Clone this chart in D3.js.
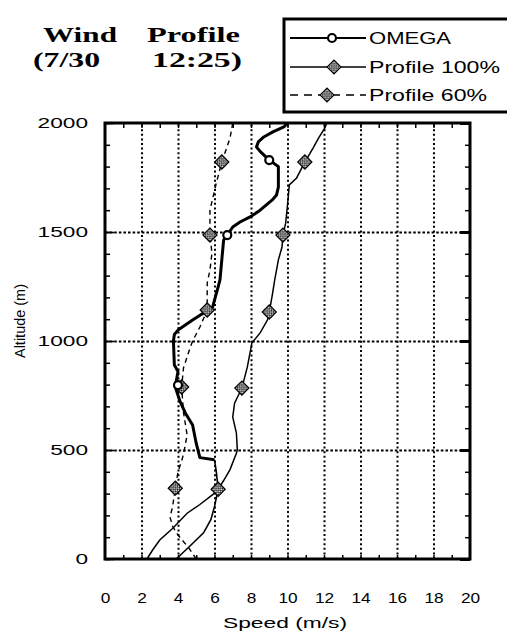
<!DOCTYPE html>
<html>
<head>
<meta charset="utf-8">
<script src="https://cdn.jsdelivr.net/npm/d3@7"></script>
<style>
  html, body { margin: 0; padding: 0; background: #fff; }
  svg { display: block; }
  text { fill: #000; }
</style>
</head>
<body>
<svg id="chart" width="507" height="631"></svg>
<script>
// ---------- data ----------
var xTicks = [0, 2, 4, 6, 8, 10, 12, 14, 16, 18, 20];
var yTicks = [0, 500, 1000, 1500, 2000];
var titleLine1 = ["Wind", "Profile"];
var titleLine2 = ["(7/30", "12:25)"];
var seriesNames = ["OMEGA", "Profile 100%", "Profile 60%"];

var omegaSpeed = [3.9, 4.6, 5.4, 5.8, 6.0, 6.2, 6.1, 6.0, 5.2, 5.0, 4.8, 4.4, 4.1, 3.85, 4.0, 3.8, 3.75, 3.8, 4.0, 4.8, 5.4, 5.9, 6.0, 6.2, 6.3, 6.4, 6.5, 6.7, 7.0, 7.4, 7.95, 8.5, 9.2, 9.4, 9.5, 9.5, 9.0, 8.5, 8.3, 8.4, 8.7, 9.2, 9.8, 10.0];
var omegaAlt   = [0, 55, 120, 180, 240, 320, 400, 455, 465, 530, 615, 670, 725, 790, 860, 890, 1000, 1030, 1050, 1096, 1128, 1156, 1188, 1248, 1280, 1372, 1463, 1486, 1523, 1546, 1569, 1600, 1650, 1670, 1706, 1800, 1830, 1870, 1890, 1913, 1936, 1959, 1982, 2000];
var omegaMarkSpeed = [4.0, 6.7, 9.0];
var omegaMarkAlt   = [798, 1486, 1830];

var p100Speed = [2.3, 2.6, 3.0, 3.7, 4.5, 5.2, 5.9, 6.2, 6.5, 6.85, 7.2, 7.25, 7.2, 7.0, 7.1, 7.5, 7.8, 8.05, 8.5, 8.9, 9.0, 9.15, 9.3, 9.5, 9.7, 9.75, 9.9, 10.0, 10.1, 10.5, 10.95, 11.4, 11.7, 12.05, 12.15];
var p100Alt   = [0, 40, 87, 140, 210, 250, 295, 320, 360, 410, 485, 500, 578, 651, 715, 784, 881, 991, 1037, 1096, 1133, 1202, 1280, 1372, 1431, 1486, 1541, 1624, 1716, 1748, 1821, 1885, 1931, 1977, 2000];
var p100MarkSpeed = [6.2, 7.5, 9.0, 9.75, 10.95];
var p100MarkAlt   = [320, 784, 1133, 1486, 1821];

var p60Speed = [5.0, 4.6, 4.0, 3.7, 3.56, 3.7, 3.85, 4.0, 4.2, 4.3, 4.5, 4.3, 4.2, 4.3, 4.66, 4.8, 5.2, 5.6, 5.6, 5.75, 5.86, 5.75, 5.75, 6.1, 6.4, 6.85, 7.0];
var p60Alt   = [0, 50, 110, 150, 193, 238, 325, 400, 450, 480, 569, 674, 789, 876, 968, 1000, 1064, 1142, 1266, 1325, 1404, 1486, 1600, 1725, 1821, 1931, 2000];
var p60MarkSpeed = [3.85, 4.2, 5.6, 5.75, 6.4];
var p60MarkAlt   = [325, 789, 1142, 1486, 1821];

function zip(xs, ys) { return xs.map(function (v, i) { return [v, ys[i]]; }); }

// ---------- layout ----------
var svg = d3.select("#chart");
var L = 105, R = 470, T = 123, B = 559;
var x = d3.scaleLinear().domain([0, 20]).range([L, R]);
var y = d3.scaleLinear().domain([0, 2000]).range([B, T]);
var sans = "'Liberation Sans', Arial, sans-serif";
var serif = "'Liberation Serif', 'Times New Roman', serif";

// checker pattern for the hatched markers
var defs = svg.append("defs");
var pat = defs.append("pattern").attr("id", "hatch").attr("patternUnits", "userSpaceOnUse").attr("width", 3).attr("height", 3);
pat.append("rect").attr("width", 3).attr("height", 3).attr("fill", "#fff");
pat.append("rect").attr("width", 1.6).attr("height", 1.6).attr("fill", "#000");
pat.append("rect").attr("x", 1.5).attr("y", 1.5).attr("width", 1.5).attr("height", 1.5).attr("fill", "#000");

// ---------- grid (dotted) ----------
svg.append("g").attr("transform", "translate(0," + B + ")")
  .call(d3.axisBottom(x).tickValues(xTicks.slice(1, -1)).tickSize(-(B - T)).tickFormat(""))
  .call(function (g) { g.select(".domain").remove(); g.selectAll("line").attr("stroke", "#000").attr("stroke-width", 2).attr("stroke-dasharray", "2,2.6"); });
svg.append("g").attr("transform", "translate(" + L + ",0)")
  .call(d3.axisLeft(y).tickValues(yTicks.slice(1, -1)).tickSize(-(R - L)).tickFormat(""))
  .call(function (g) { g.select(".domain").remove(); g.selectAll("line").attr("stroke", "#000").attr("stroke-width", 2).attr("stroke-dasharray", "2.6,2"); });

// ---------- inner ticks on all four sides ----------
function tickStyle(g) { g.select(".domain").remove(); g.selectAll("line").attr("stroke", "#000").attr("stroke-width", 1.5); }
var minorAlt = d3.range(0, 2001, 100);
var oddSpeed = d3.range(1, 20, 1);
svg.append("g").attr("transform", "translate(" + L + ",0)")
  .call(d3.axisLeft(y).tickValues(minorAlt).tickSize(-5).tickFormat("")).call(tickStyle);
svg.append("g").attr("transform", "translate(" + L + ",0)")
  .call(d3.axisLeft(y).tickValues(yTicks).tickSize(-9).tickFormat("")).call(tickStyle);
svg.append("g").attr("transform", "translate(" + R + ",0)")
  .call(d3.axisRight(y).tickValues(minorAlt).tickSize(-5).tickFormat("")).call(tickStyle);
svg.append("g").attr("transform", "translate(" + R + ",0)")
  .call(d3.axisRight(y).tickValues(yTicks).tickSize(-10).tickFormat("")).call(function (g) { tickStyle(g); g.selectAll("line").attr("stroke-width", 3); });
svg.append("g").attr("transform", "translate(0," + T + ")")
  .call(d3.axisTop(x).tickValues(oddSpeed).tickSize(-5).tickFormat("")).call(tickStyle);
svg.append("g").attr("transform", "translate(0," + B + ")")
  .call(d3.axisBottom(x).tickValues(oddSpeed).tickSize(-4).tickFormat("")).call(tickStyle);

// ---------- tick labels ----------
svg.append("g").attr("transform", "translate(0," + B + ")")
  .call(d3.axisBottom(x).tickValues(xTicks).tickSize(0).tickPadding(33).tickFormat(d3.format("d")))
  .call(function (g) {
    g.select(".domain").remove();
    g.selectAll("text").attr("font-family", sans).attr("font-size", 15).attr("fill", "#000")
      .attr("textLength", function (d) { return String(d).length * 9.6; }).attr("lengthAdjust", "spacingAndGlyphs");
  });
svg.append("g").attr("transform", "translate(" + L + ",0)")
  .call(d3.axisLeft(y).tickValues(yTicks).tickSize(0).tickPadding(17).tickFormat(d3.format("d")))
  .call(function (g) {
    g.select(".domain").remove();
    g.selectAll("text").attr("font-family", sans).attr("font-size", 15).attr("fill", "#000")
      .attr("textLength", function (d) { return String(d).length * 12.6; }).attr("lengthAdjust", "spacingAndGlyphs");
  });

svg.append("text").attr("x", 285).attr("y", 628).attr("text-anchor", "middle")
  .attr("font-family", sans).attr("font-size", 15).attr("textLength", 124).attr("lengthAdjust", "spacingAndGlyphs")
  .text("Speed (m/s)");
svg.append("text").attr("transform", "translate(25,321) rotate(-90)").attr("text-anchor", "middle")
  .attr("font-family", sans).attr("font-size", 15).attr("textLength", 74).attr("lengthAdjust", "spacingAndGlyphs")
  .text("Altitude (m)");

// ---------- series ----------
var line = d3.line().x(function (d) { return x(d[0]); }).y(function (d) { return y(d[1]); });
var plot = svg.append("g");

var p100 = zip(p100Speed, p100Alt), p60 = zip(p60Speed, p60Alt), omega = zip(omegaSpeed, omegaAlt);
plot.append("path").datum(p60).attr("d", line).attr("fill", "none").attr("stroke", "#000").attr("stroke-width", 1.4).attr("stroke-dasharray", "5,4");
plot.append("path").datum(p100).attr("d", line).attr("fill", "none").attr("stroke", "#000").attr("stroke-width", 1.5);
// OMEGA: thin near ground, heavy above ~455 m as in the scan
plot.append("path").datum(omega.filter(function (d) { return d[1] <= 455; })).attr("d", line).attr("fill", "none").attr("stroke", "#000").attr("stroke-width", 1.6);
plot.append("path").datum(omega.filter(function (d) { return d[1] >= 455; })).attr("d", line).attr("fill", "none").attr("stroke", "#000").attr("stroke-width", 3).attr("stroke-linejoin", "round");

var diamond = d3.symbol().type(d3.symbolSquare).size(100);
function hatchMarks(xs, ys) {
  plot.append("g").selectAll("path").data(zip(xs, ys)).enter().append("path")
    .attr("d", diamond)
    .attr("transform", function (d) { return "translate(" + x(d[0]) + "," + y(d[1]) + ") rotate(45)"; })
    .attr("fill", "url(#hatch)").attr("stroke", "#000").attr("stroke-width", 1.2);
}
hatchMarks(p60MarkSpeed, p60MarkAlt);
hatchMarks(p100MarkSpeed, p100MarkAlt);
plot.append("g").selectAll("circle").data(zip(omegaMarkSpeed, omegaMarkAlt)).enter().append("circle")
  .attr("cx", function (d) { return x(d[0]); }).attr("cy", function (d) { return y(d[1]); })
  .attr("r", 4).attr("fill", "#fff").attr("stroke", "#000").attr("stroke-width", 2.2);

// ---------- frame ----------
svg.append("rect").attr("x", L).attr("y", T).attr("width", R - L).attr("height", B - T)
  .attr("fill", "none").attr("stroke", "#000").attr("stroke-width", 3);

// ---------- title ----------
var tl = svg.append("g").attr("font-family", serif).attr("font-weight", "bold").attr("font-size", 21);
function titleWord(px, py, len, s) {
  tl.append("text").attr("x", px).attr("y", py).attr("textLength", len).attr("lengthAdjust", "spacingAndGlyphs").text(s);
}
titleWord(43, 42, 74, titleLine1[0]);
titleWord(147, 42, 93, titleLine1[1]);
titleWord(33, 67, 67, titleLine2[0]);
titleWord(152, 67, 90, titleLine2[1]);

// ---------- legend ----------
var lg = svg.append("g");
lg.append("rect").attr("x", 284).attr("y", 19).attr("width", 240).attr("height", 93)
  .attr("fill", "#fff").attr("stroke", "#000").attr("stroke-width", 3);
var rows = [38, 67, 95], textLen = [82, 131, 118];
lg.append("line").attr("x1", 290).attr("x2", 366).attr("y1", rows[0]).attr("y2", rows[0]).attr("stroke", "#000").attr("stroke-width", 2);
lg.append("circle").attr("cx", 332).attr("cy", rows[0]).attr("r", 4).attr("fill", "#fff").attr("stroke", "#000").attr("stroke-width", 2.2);
lg.append("line").attr("x1", 290).attr("x2", 366).attr("y1", rows[1]).attr("y2", rows[1]).attr("stroke", "#000").attr("stroke-width", 1.5);
lg.append("path").attr("d", diamond).attr("transform", "translate(334," + rows[1] + ") rotate(45)").attr("fill", "url(#hatch)").attr("stroke", "#000");
lg.append("line").attr("x1", 290).attr("x2", 366).attr("y1", rows[2]).attr("y2", rows[2]).attr("stroke", "#000").attr("stroke-width", 1.4).attr("stroke-dasharray", "8,6");
lg.append("path").attr("d", diamond).attr("transform", "translate(327," + rows[2] + ") rotate(45)").attr("fill", "url(#hatch)").attr("stroke", "#000");
seriesNames.forEach(function (name, i) {
  lg.append("text").attr("x", 369).attr("y", rows[i] + 6).attr("font-family", sans).attr("font-size", 17)
    .attr("textLength", textLen[i]).attr("lengthAdjust", "spacingAndGlyphs").text(name);
});
</script>
</body>
</html>
